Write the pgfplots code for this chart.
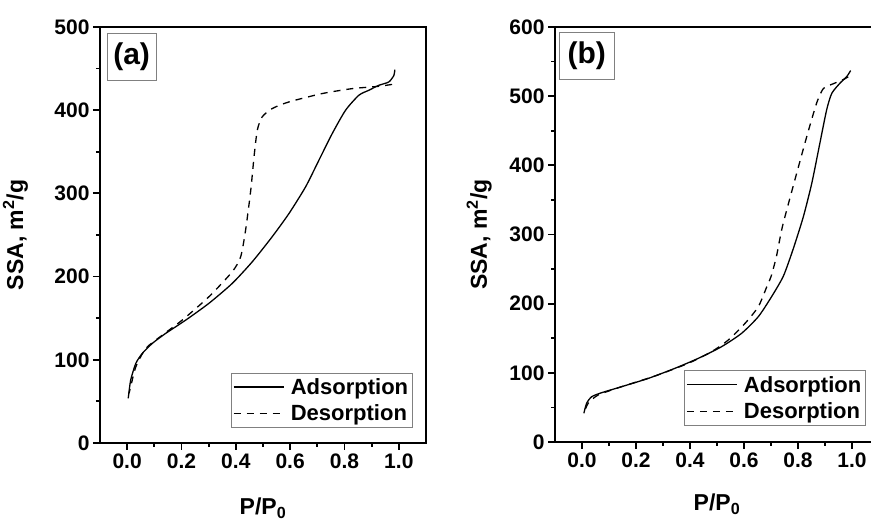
\documentclass[border=0pt]{standalone}
\usepackage{fontspec}
\setmainfont{Liberation Sans}
\usepackage{pgfplots}
\pgfplotsset{compat=1.18}

\pgfplotsset{
  isostyle/.style={
    scale only axis,
    anchor=south west,
    xmin=-0.1, xmax=1.1,
    xtick={0,0.2,0.4,0.6,0.8,1.0},
    minor x tick num=1, minor y tick num=1,
    tick pos=left, tick align=outside,
    major tick length=7pt, minor tick length=4pt,
    every tick/.style={black, line width=1.8pt},
    axis line style={line width=2.5pt},
    /pgf/number format/assume math mode=true,
    ticklabel style={font=\fontsize{21}{23}\selectfont\bfseries},
    xticklabel style={/pgf/number format/.cd, fixed, fixed zerofill, precision=1},
    label style={font=\fontsize{23}{25}\selectfont\bfseries},
    xlabel={P/P\textsubscript{0}},
    ylabel={SSA, m\textsuperscript{2}/g},
    legend cell align=left,
    legend image code/.code={\draw[#1] (0pt,0pt) -- (50pt,0pt);},
    legend style={draw=gray, line width=0.6pt, anchor=south east,
      font=\fontsize{22}{24}\selectfont\bfseries,
      column sep=4pt, row sep=4pt, inner xsep=2pt, inner ysep=3pt,
      nodes={inner sep=2.5pt}},
  },
  ads/.style={black, line width=1.3pt, smooth, tension=0.4},
  des/.style={black, line width=1.3pt, dash pattern=on 7pt off 6pt, smooth, tension=0.4},
}
\tikzset{
  tag/.style={draw=gray, line width=0.6pt, anchor=north west, inner sep=3pt,
    minimum height=47pt, font=\fontsize{30}{32}\selectfont\bfseries},
}

% panel (a)
\pgfplotstableread{
x y
0.004 53.7
0.013 75.7
0.032 95.8
0.056 107.8
0.093 119.8
0.142 131.8
0.216 147.8
0.301 167.9
0.387 191.9
0.461 218.0
0.534 248.0
0.596 276.0
0.657 308.0
0.706 340.0
0.755 372.0
0.804 400.0
0.853 418.0
0.890 424.0
0.926 429.9
0.963 433.9
0.982 441.9
0.985 448.7
}\adsA
\pgfplotstableread{
x y
0.975 431.0
0.926 428.7
0.828 425.9
0.718 420.0
0.596 410.0
0.534 402.0
0.497 392.0
0.479 376.0
0.467 344.0
0.455 304.0
0.436 256.0
0.418 224.0
0.387 205.9
0.301 175.8
0.203 147.8
0.130 129.8
0.069 113.8
0.032 91.7
0.013 67.7
0.007 59.7
}\desA

% panel (b)
\pgfplotstableread{
x y
0.007 41.5
0.017 55.9
0.036 65.5
0.073 71.3
0.147 80.0
0.246 92.0
0.344 106.5
0.431 121.0
0.517 137.8
0.591 157.1
0.653 181.2
0.702 210.0
0.746 240.0
0.783 280.0
0.820 326.0
0.851 374.0
0.881 432.0
0.906 480.0
0.925 504.0
0.956 519.0
0.980 528.0
0.995 537.0
}\adsB
\pgfplotstableread{
x y
0.986 528.0
0.968 524.0
0.931 518.0
0.894 511.0
0.869 490.0
0.832 441.0
0.785 374.0
0.742 311.0
0.720 268.0
0.700 239.0
0.685 225.0
0.653 195.6
0.604 171.6
0.542 147.5
0.480 130.6
0.394 113.8
0.270 95.4
0.147 80.0
0.060 68.0
0.023 56.0
0.009 43.8
}\desB

\begin{document}
\begin{tikzpicture}
\useasboundingbox (0,0) rectangle (871pt,521pt);

\begin{axis}[isostyle,
    at={(100pt,78pt)}, width=326pt, height=416pt,
    ymin=0, ymax=500, ytick={0,100,...,500},
    ylabel style={at={(axis description cs:-0.236,0.5)}, anchor=base},
    xlabel style={at={(axis description cs:0.5,-0.172)}, anchor=base},
    legend style={at={(axis description cs:0.960,0.036)}},
]
\addplot[ads] table {\adsA};
\addlegendentry{Adsorption}
\addplot[des] table {\desA};
\addlegendentry{Desorption}
\node[tag, minimum width=49pt] at (axis description cs:0.021,0.986) {(a)};
\end{axis}

\begin{axis}[isostyle,
    at={(555pt,79pt)}, width=324pt, height=415pt,
    ymin=0, ymax=600, ytick={0,100,...,600},
    ylabel style={at={(axis description cs:-0.21,0.5)}, anchor=base},
    xlabel style={at={(axis description cs:0.5,-0.166)}, anchor=base},
    legend style={at={(axis description cs:0.960,0.039)}},
]
\addplot[ads] table {\adsB};
\addlegendentry{Adsorption}
\addplot[des] table {\desB};
\addlegendentry{Desorption}
\node[tag, minimum width=55pt] at (axis description cs:0.012,0.988) {(b)};
\end{axis}
\end{tikzpicture}
\end{document}
